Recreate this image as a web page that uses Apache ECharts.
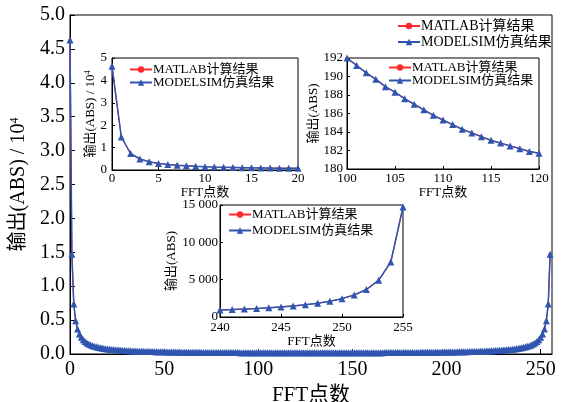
<!DOCTYPE html>
<html><head><meta charset="utf-8">
<script src="https://cdn.jsdelivr.net/npm/echarts@6/dist/echarts.min.js"></script>
<style>html,body{margin:0;padding:0;background:#fff}#c{width:565px;height:402px}</style>
</head><body><div id="c"></div>
<script>
// |FFT| magnitude, FFT points 0..255
const fftMagnitude = [
46300,14730,7367,4912,3685,2948,2458,2107,1845,1640,1477,1343,1232,1138,1058,988,
927,873,825,782,744,709,678,649,623,599,576,556,537,519,502,487,
472,459,446,434,423,412,402,393,384,375,367,359,352,345,338,332,
325,320,314,309,304,299,294,289,285,281,277,273,269,266,262,259,
256,253,250,247,244,241,239,236,234,232,229,227,225,223,221,219,
217.4,215.7,214.0,212.4,210.8,209.3,207.8,206.4,205.0,203.7,202.4,201.2,200.0,198.9,197.8,196.7,
195.7,194.7,193.8,192.9,192.0,191.2,190.4,189.7,188.9,188.3,187.6,187.0,186.4,185.8,185.3,184.8,
184.3,183.9,183.5,183.1,182.8,182.5,182.2,181.9,181.7,181.5,181.3,181.1,181.0,180.9,180.9,180.8,
180.8,180.8,180.9,180.9,181.0,181.1,181.3,181.5,181.7,181.9,182.2,182.5,182.8,183.1,183.5,183.9,
184.3,184.8,185.3,185.8,186.4,187.0,187.6,188.3,188.9,189.7,190.4,191.2,192.0,192.9,193.8,194.7,
195.7,196.7,197.8,198.9,200.0,201.2,202.4,203.7,205.0,206.4,207.8,209.3,210.8,212.4,214.0,215.7,
217.4,219,221,223,225,227,229,232,234,236,239,241,244,247,250,253,
256,259,262,266,269,273,277,281,285,289,294,299,304,309,314,320,
325,332,338,345,352,359,367,375,384,393,402,412,423,434,446,459,
472,487,502,519,537,556,576,599,623,649,678,709,744,782,825,873,
927,988,1058,1138,1232,1343,1477,1640,1845,2107,2458,2948,3685,4912,7367,14730
];
const seriesNames = ['MATLAB计算结果', 'MODELSIM仿真结果'];
const xTitle = 'FFT点数';
const yTitleScaled = '输出(ABS) / 10{sup|4}';
const yTitle = '输出(ABS)';
// ranges of FFT points shown in each panel: main, inset A, inset B, inset C
const panelRanges = [[0, 255], [0, 20], [100, 120], [240, 255]];

const FONT = "'Liberation Serif', 'Noto Sans CJK SC', serif";
const RED = '#ff2a2a';
const BLUE = '#2f55b0';

const chart = echarts.init(document.getElementById('c'), null, {renderer: 'canvas'});

function pairs(r) {
  const out = [];
  for (let k = r[0]; k <= r[1]; k++) out.push([k, fftMagnitude[k]]);
  return out;
}
function spaced(v) { return String(v).replace(/\B(?=(\d{3})+(?!\d))/g, ' '); }

const grids = [
  {left: 70, top: 15, width: 482, height: 339},
  {left: 112, top: 58, width: 186, height: 112},
  {left: 347, top: 58, width: 192, height: 111},
  {left: 220, top: 205, width: 183, height: 112}
].map(g => Object.assign({show: true, backgroundColor: '#fff', borderColor: '#000', borderWidth: 1,
  containLabel: false, outerBoundsMode: 'none'}, g));

function axisBase(fs, margin, tickLen) {
  return {
    axisLine: {show: true, onZero: false, lineStyle: {color: '#000', width: 1}},
    axisTick: {show: true, inside: true, length: tickLen, lineStyle: {color: '#000'}},
    splitLine: {show: false},
    axisLabel: {color: '#000', fontSize: fs, fontFamily: FONT, margin: margin},
    nameTextStyle: {color: '#000', fontFamily: FONT}
  };
}

const xAxes = [
  Object.assign(axisBase(20, 6, 5), {gridIndex: 0, type: 'value', min: 0, max: 256, interval: 50,
    name: xTitle, nameLocation: 'middle', nameGap: 25, nameTextStyle: {color: '#000', fontFamily: FONT, fontSize: 21}}),
  Object.assign(axisBase(13, 2, 3), {gridIndex: 1, type: 'value', min: 0, max: 20, interval: 5,
    name: xTitle, nameLocation: 'middle', nameGap: 15, nameTextStyle: {color: '#000', fontFamily: FONT, fontSize: 13}}),
  Object.assign(axisBase(13, 3, 3), {gridIndex: 2, type: 'value', min: 100, max: 120, interval: 5,
    name: xTitle, nameLocation: 'middle', nameGap: 16, nameTextStyle: {color: '#000', fontFamily: FONT, fontSize: 13}}),
  Object.assign(axisBase(13, 4, 3), {gridIndex: 3, type: 'value', min: 240, max: 255, interval: 5,
    name: xTitle, nameLocation: 'middle', nameGap: 17, nameTextStyle: {color: '#000', fontFamily: FONT, fontSize: 13}})
];
xAxes[0].axisLabel.showMaxLabel = false;

const yAxes = [
  Object.assign(axisBase(20, 5, 5), {gridIndex: 0, type: 'value', min: 0, max: 50000, interval: 5000,
    name: yTitleScaled, nameLocation: 'middle', nameGap: 35,
    nameTextStyle: {color: '#000', fontFamily: FONT, fontSize: 20, rich: {sup: {fontSize: 12, fontFamily: FONT, color: '#000', verticalAlign: 'top'}}}}),
  Object.assign(axisBase(13, 5, 3), {gridIndex: 1, type: 'value', min: 0, max: 50000, interval: 10000,
    name: yTitleScaled, nameLocation: 'middle', nameGap: 15,
    nameTextStyle: {color: '#000', fontFamily: FONT, fontSize: 13, rich: {sup: {fontSize: 8, fontFamily: FONT, color: '#000', verticalAlign: 'top'}}}}),
  Object.assign(axisBase(13, 4, 3), {gridIndex: 2, type: 'value', min: 180, max: 192, interval: 2,
    name: yTitle, nameLocation: 'middle', nameGap: 27, nameTextStyle: {color: '#000', fontFamily: FONT, fontSize: 13}}),
  Object.assign(axisBase(13, 2, 3), {gridIndex: 3, type: 'value', min: 0, max: 15000, interval: 5000,
    name: yTitle, nameLocation: 'middle', nameGap: 41, nameTextStyle: {color: '#000', fontFamily: FONT, fontSize: 13}})
];
yAxes[0].axisLabel.formatter = v => (v / 10000).toFixed(1);
yAxes[1].axisLabel.formatter = v => String(v / 10000);
yAxes[3].axisLabel.formatter = v => spaced(v);

const series = [];
panelRanges.forEach((r, i) => {
  const d = pairs(r);
  series.push({
    name: seriesNames[0], type: 'line', xAxisIndex: i, yAxisIndex: i, data: d,
    symbol: 'circle', symbolSize: 3, color: RED, lineStyle: {width: 1.2, color: RED},
    itemStyle: {color: RED}, z: 3, animation: false
  });
  series.push({
    name: seriesNames[1], type: 'line', xAxisIndex: i, yAxisIndex: i, data: d,
    symbol: 'triangle', symbolSize: 7, color: BLUE, lineStyle: {width: 1.5, color: BLUE},
    itemStyle: {color: BLUE}, z: 4, animation: false
  });
});

function legendAt(left, top, fs, gap) {
  return {
    data: seriesNames, orient: 'vertical', left: left, top: top, itemWidth: 22, itemHeight: 8,
    itemGap: gap, padding: 0, selectedMode: false,
    textStyle: {color: '#000', fontSize: fs, fontFamily: FONT, padding: [0, 0, 0, -4]}
  };
}

chart.setOption({
  backgroundColor: '#fff',
  animation: false,
  grid: grids,
  xAxis: xAxes,
  yAxis: yAxes,
  legend: [
    legendAt(397, 19, 14, 2),
    legendAt(129, 63, 13, 0),
    legendAt(388, 61, 13, 0),
    legendAt(228, 208, 13, 3)
  ],
  series: series
});
</script>
</body></html>
